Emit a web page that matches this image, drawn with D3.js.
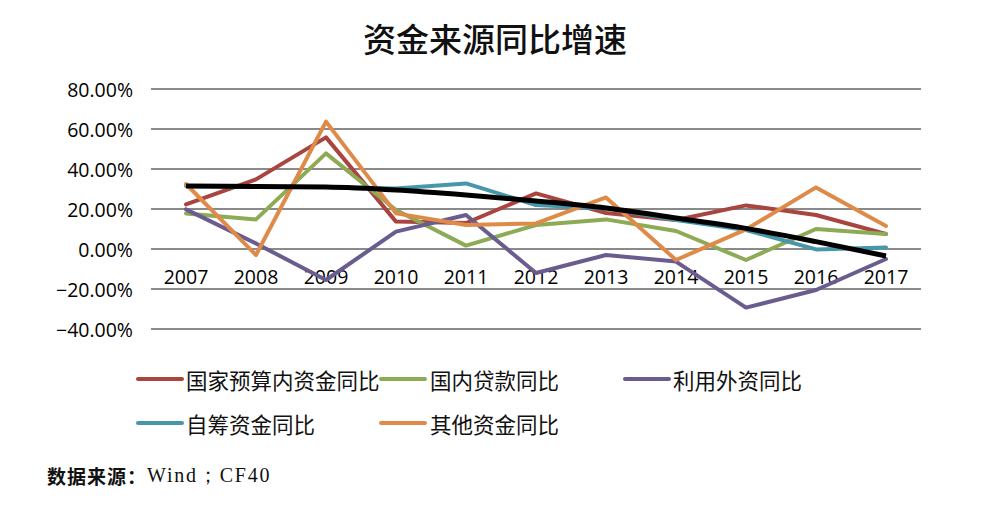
<!DOCTYPE html>
<html>
<head>
<meta charset="utf-8">
<script src="https://cdn.jsdelivr.net/npm/d3@7"></script>
<style>
  html, body { margin: 0; padding: 0; background: #fff; }
  svg { display: block; }
</style>
</head>
<body>
<svg id="chart" width="998" height="514"></svg>
<script>
const title = "资金来源同比增速";
const years = ["2007","2008","2009","2010","2011","2012","2013","2014","2015","2016","2017"];
const yTicks = [-40, -20, 0, 20, 40, 60, 80];
const seriesNames = ["国家预算内资金同比","国内贷款同比","利用外资同比","自筹资金同比","其他资金同比"];
const budget  = [22.3, 34.8, 55.8, 13.7, 13.0, 27.8, 18.0, 14.5, 21.8, 17.0, 7.5];
const loans   = [17.8, 14.8, 47.8, 19.5, 1.7, 12.0, 14.8, 9.0, -5.5, 10.0, 7.5];
const foreign = [19.8, 2.8, -15.5, 8.7, 17.0, -12.0, -3.0, -6.3, -29.3, -20.5, -5.0];
const selfRaised = [31.5, 31.0, 31.0, 30.3, 32.8, 22.0, 20.3, 14.5, 9.5, -0.2, 0.8];
const other   = [32.5, -3.0, 63.7, 17.8, 12.0, 12.8, 25.8, -5.5, 9.8, 30.8, 11.5];
const trend   = [31.5, 31.3, 31.0, 29.5, 27.0, 24.0, 20.5, 15.5, 10.3, 3.7, -3.5];
const colors = ["#A9443F", "#8DAA55", "#6A5C8E", "#4797AA", "#DE8B4A"];
const source = "数据来源：";
const sourceLatin = "Wind；CF40";

const series = [budget, loans, foreign, selfRaised, other];

const svg = d3.select("#chart");
svg.append("rect").attr("width", 998).attr("height", 514).attr("fill", "#fff");

const x = d3.scaleBand().domain(years).range([151, 921]);
const y = d3.scaleLinear().domain([-40, 80]).range([329, 89]);
const cx = d => x(d) + x.bandwidth() / 2;

// title
svg.append("text")
  .attr("x", 495).attr("y", 38)
  .attr("text-anchor", "middle")
  .attr("dominant-baseline", "central")
  .attr("font-family", "'Noto Sans CJK SC', sans-serif")
  .attr("font-size", 33)
  .attr("font-weight", 500)
  .attr("fill", "#111")
  .text(title);

// gridlines
svg.append("g").selectAll("line").data(yTicks).join("line")
  .attr("x1", 151).attr("x2", 921)
  .attr("y1", d => y(d)).attr("y2", d => y(d))
  .attr("stroke", "#8a8a8a").attr("stroke-width", 2);

// y axis labels
const yAxis = d3.axisLeft(y).tickValues(yTicks).tickSize(0).tickPadding(0)
  .tickFormat(d => d3.format(".2f")(d) + "%");
const gy = svg.append("g").attr("transform", "translate(133,0)").call(yAxis);
gy.select(".domain").remove();
gy.selectAll("text")
  .attr("font-family", "'Open Sans', sans-serif")
  .attr("font-size", 19.5)
  .attr("fill", "#000")
  .attr("dy", "0.36em");

// x axis labels
const xAxis = d3.axisBottom(x).tickSize(0).tickPadding(0);
const gx = svg.append("g").attr("transform", "translate(0,270)").call(xAxis);
gx.select(".domain").remove();
gx.selectAll("text")
  .attr("font-family", "'Open Sans', sans-serif")
  .attr("font-size", 19.5)
  .attr("fill", "#000")
  .attr("dy", "0.7em");

// lines
const line = d3.line().x((d, i) => cx(years[i])).y(d => y(d));
series.forEach((s, i) => {
  svg.append("path").datum(s)
    .attr("d", line)
    .attr("fill", "none")
    .attr("stroke", colors[i])
    .attr("stroke-width", 4)
    .attr("stroke-linejoin", "round")
    .attr("stroke-linecap", "round");
});
svg.append("path").datum(trend)
  .attr("d", line.curve(d3.curveMonotoneX))
  .attr("fill", "none")
  .attr("stroke", "#000")
  .attr("stroke-width", 5)
  .attr("stroke-linejoin", "round");

// legend
const legendPos = [
  {sx: 138, tx: 186, y: 379},
  {sx: 381, tx: 430, y: 379},
  {sx: 625, tx: 673, y: 379},
  {sx: 138, tx: 186, y: 423},
  {sx: 381, tx: 430, y: 423}
];
const lg = svg.append("g");
seriesNames.forEach((name, i) => {
  const p = legendPos[i];
  lg.append("line")
    .attr("x1", p.sx).attr("x2", p.sx + 44)
    .attr("y1", p.y).attr("y2", p.y)
    .attr("stroke", colors[i]).attr("stroke-width", 4)
    .attr("stroke-linecap", "round");
  lg.append("text")
    .attr("x", p.tx).attr("y", p.y)
    .attr("dominant-baseline", "central")
    .attr("font-family", "'Noto Sans CJK SC', sans-serif")
    .attr("font-size", 21.5)
    .attr("fill", "#111")
    .text(name);
});

// source
const st = svg.append("text")
  .attr("x", 47).attr("y", 475)
  .attr("dominant-baseline", "central")
  .attr("font-size", 19)
  .attr("fill", "#111");
st.append("tspan")
  .attr("font-family", "'Noto Sans CJK SC', sans-serif")
  .attr("font-weight", "bold")
  .attr("letter-spacing", 1)
  .text(source);
st.append("tspan")
  .attr("font-family", "'Liberation Serif', serif")
  .attr("font-size", 20)
  .attr("letter-spacing", 1.8)
  .text(sourceLatin);
</script>
</body>
</html>
